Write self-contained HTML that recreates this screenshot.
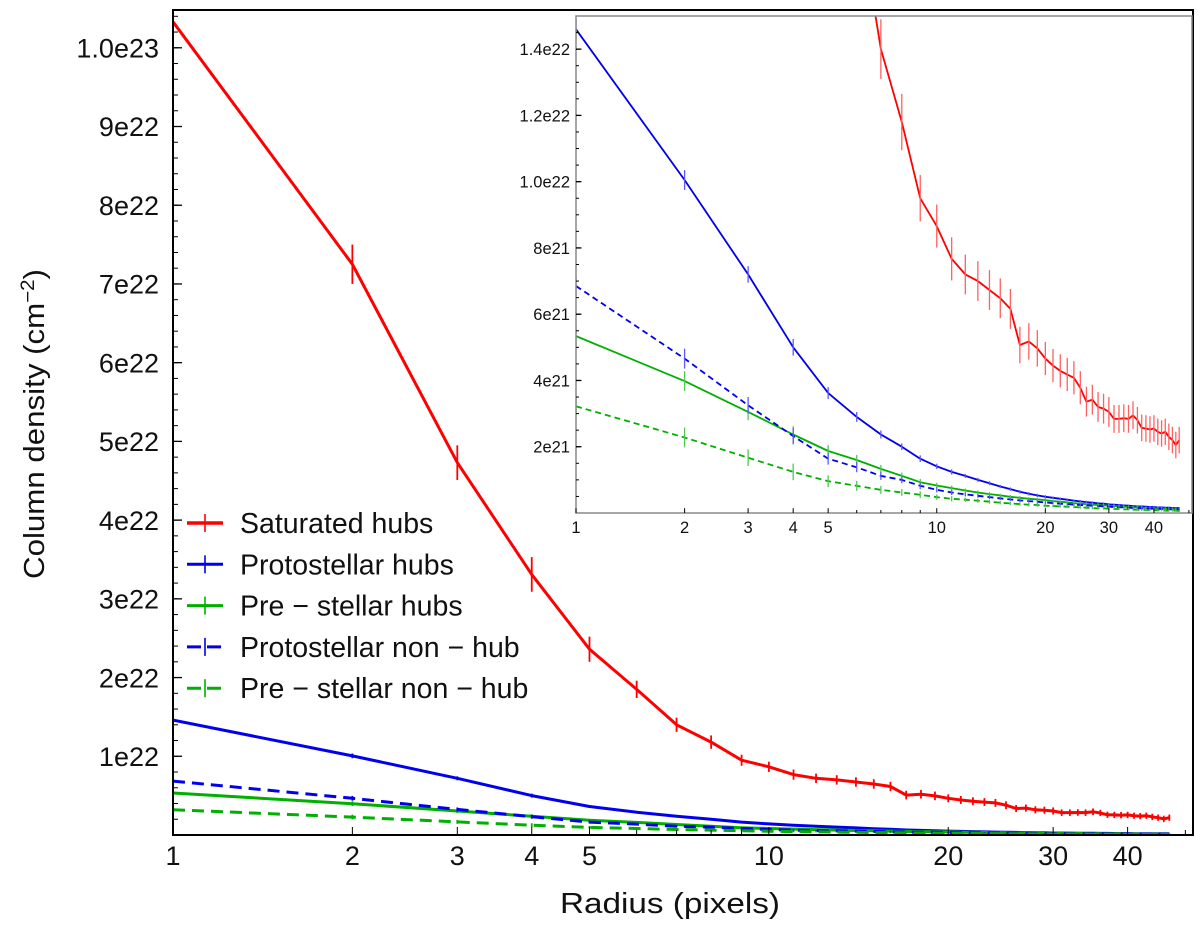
<!DOCTYPE html>
<html><head><meta charset="utf-8"><style>
body{margin:0;background:#fff;width:1200px;height:926px;overflow:hidden}
svg text{font-family:"Liberation Sans","DejaVu Sans",sans-serif;fill:#111}
</style></head><body>
<svg id="chart" width="1200" height="926" xmlns="http://www.w3.org/2000/svg"></svg>
<script>
const radius = [];
for (let i = 1; i <= 47; i++) radius.push(i);
// values in units of 1e21 cm^-2
const satHubs = [103.3,72.5,47.3,33.1,23.6,18.5,14.0,11.8,9.5,8.66,7.67,7.2,7.0,6.73,6.48,6.16,5.07,5.18,4.97,4.66,4.45,4.29,4.18,4.08,3.78,3.36,3.42,3.2,3.15,3.05,2.84,2.84,2.86,2.84,2.95,2.8,2.57,2.55,2.52,2.55,2.45,2.4,2.45,2.3,2.2,2.05,2.2];
const satErr = [1.5,2.5,2.2,2.2,1.6,1.1,0.9,0.85,0.7,0.65,0.65,0.6,0.6,0.6,0.6,0.6,0.55,0.55,0.55,0.5,0.5,0.5,0.5,0.5,0.5,0.45,0.45,0.45,0.45,0.45,0.42,0.42,0.42,0.42,0.42,0.4,0.4,0.4,0.4,0.4,0.4,0.4,0.4,0.4,0.4,0.4,0.4];
const protoHubs = [14.6,10.05,7.2,5.0,3.62,2.9,2.37,2.0,1.64,1.41,1.24,1.12,1.0,0.9,0.8,0.72,0.64,0.58,0.53,0.49,0.46,0.43,0.4,0.37,0.35,0.33,0.31,0.29,0.28,0.26,0.25,0.24,0.23,0.22,0.21,0.2,0.2,0.19,0.18,0.18,0.17,0.17,0.16,0.16,0.15,0.15,0.15];
const protoNon = [6.85,4.66,3.25,2.32,1.64,1.38,1.12,1.0,0.82,0.7,0.62,0.56,0.52,0.48,0.44,0.41,0.38,0.36,0.34,0.32,0.3,0.28,0.27,0.25,0.24,0.23,0.22,0.21,0.2,0.19,0.18,0.17,0.17,0.16,0.15,0.15,0.14,0.14,0.13,0.13,0.12,0.12,0.12,0.11,0.11,0.1,0.1];
const preHubs = [5.34,3.98,3.05,2.37,1.87,1.6,1.33,1.12,0.93,0.83,0.75,0.68,0.62,0.57,0.53,0.49,0.46,0.43,0.41,0.39,0.36,0.34,0.32,0.3,0.28,0.27,0.25,0.24,0.23,0.22,0.21,0.2,0.19,0.18,0.17,0.17,0.16,0.15,0.15,0.14,0.14,0.13,0.13,0.12,0.12,0.11,0.11];
const preNon = [3.22,2.28,1.67,1.24,0.96,0.82,0.7,0.62,0.55,0.48,0.43,0.4,0.37,0.34,0.31,0.29,0.27,0.25,0.24,0.22,0.21,0.2,0.19,0.18,0.17,0.16,0.15,0.14,0.14,0.13,0.12,0.12,0.11,0.11,0.1,0.1,0.09,0.09,0.09,0.08,0.08,0.08,0.07,0.07,0.07,0.07,0.06];
const smallErr = [0.3,0.3,0.25,0.25,0.18,0.15,0.12,0.1,0.1,0.08,0.08,0.06,0.06,0.06,0.05,0.05,0.05,0.05,0.05,0.05,0.04,0.04,0.04,0.04,0.04,0.04,0.04,0.04,0.04,0.04,0.03,0.03,0.03,0.03,0.03,0.03,0.03,0.03,0.03,0.03,0.03,0.03,0.03,0.03,0.03,0.03,0.03];
const xTickVals = [1,2,3,4,5,10,20,30,40];
const mainYTicks = [10,20,30,40,50,60,70,80,90,100];
const mainYLabels = ["1e22","2e22","3e22","4e22","5e22","6e22","7e22","8e22","9e22","1.0e23"];
const insetYTicks = [2,4,6,8,10,12,14];
const insetYLabels = ["2e21","4e21","6e21","8e21","1.0e22","1.2e22","1.4e22"];
const seriesNames = ["Saturated hubs","Protostellar hubs","Pre \u2212 stellar hubs","Protostellar non \u2212 hub","Pre \u2212 stellar non \u2212 hub"];

const NS = "http://www.w3.org/2000/svg";
const svg = document.getElementById('chart');
function mk(tag, attrs, parent){const e=document.createElementNS(NS,tag);for(const k in attrs)e.setAttribute(k,attrs[k]);(parent||svg).appendChild(e);return e;}

const series = [
 {v:satHubs,e:satErr,c:'#ff0000',ec:'#ff6060',dash:null,name:'saturated-hubs'},
 {v:protoHubs,e:smallErr,c:'#0000ee',ec:'#5a5aff',dash:null,name:'protostellar-hubs'},
 {v:preHubs,e:smallErr,c:'#00b000',ec:'#50c850',dash:null,name:'prestellar-hubs'},
 {v:protoNon,e:smallErr,c:'#0000ee',ec:'#5a5aff',dash:'dash',name:'protostellar-nonhub'},
 {v:preNon,e:smallErr,c:'#00b000',ec:'#50c850',dash:'dash',name:'prestellar-nonhub'}
];

function panel(cfg){
  const {L,R,T,B,xmax,ymax,lw,dashArr,id} = cfg;
  const xs = r => L + (R-L)*Math.log10(r)/Math.log10(xmax);
  const ys = v => B - (B-T)*v/ymax;
  const g = mk('g',{});
  
  
  mk('rect',{x:L,y:T,width:R-L,height:B-T,fill:'#fff',stroke:'none'},g);
  const clip = mk('clipPath',{id:id+'-clip'},g);
  mk('rect',{x:L,y:T,width:R-L,height:B-T},clip);
  const plot = mk('g',{'clip-path':'url(#'+id+'-clip)'},g);
  series.forEach(s=>{
    const sg = mk('g',{},plot);
    
    
    const d = radius.map((r,i)=>(i?'L':'M')+xs(r).toFixed(1)+','+ys(s.v[i]).toFixed(1)).join('');
    const p = mk('path',{d:d,fill:'none',stroke:s.c,'stroke-width':lw,'stroke-linejoin':'round'},sg);
    if(s.dash) p.setAttribute('stroke-dasharray',dashArr);
    radius.forEach((r,i)=>{
      const x=xs(r);
      const eb = mk('line',{x1:x,x2:x,y1:ys(s.v[i]+s.e[i]),y2:ys(s.v[i]-s.e[i]),stroke:cfg.inset?s.ec:s.c,'stroke-width':cfg.inset?1.3:1.8},sg);
      
      
    });
  });
  mk('rect',{x:L,y:T,width:R-L,height:B-T,fill:'none',stroke:cfg.frame,'stroke-width':cfg.inset?1.5:2},g);
  const fs = cfg.fs;
  for(let dec=1;dec<=10;dec*=10){for(let m=1;m<=9;m++){const r=m*dec;if(r>xmax)break;const x=xs(r);
    const major = xTickVals.indexOf(r)>=0;
    mk('line',{x1:x,x2:x,y1:B,y2:B-(major?cfg.tk*1.6:cfg.tk),stroke:'#000','stroke-width':1},g);}}
  xTickVals.forEach(r=>{const t=mk('text',{x:xs(r),y:B+cfg.xlOff,'font-size':fs,'text-anchor':'middle'},g);t.textContent=String(r);
    });
  for(let v=cfg.minor;v<ymax;v+=cfg.minor){const y=ys(v);mk('line',{x1:L,x2:L+cfg.tk,y1:y,y2:y,stroke:'#000','stroke-width':1},g);}
  cfg.yt.forEach((v,i)=>{const y=ys(v);mk('line',{x1:L,x2:L+cfg.tk*1.8,y1:y,y2:y,stroke:'#000','stroke-width':1.3},g);
    const t=mk('text',{x:L-cfg.ylOff,y:y+fs*0.36,'font-size':fs,'text-anchor':'end'},g);t.textContent=cfg.yl[i];
    });
}

panel({id:'main',L:173,R:1193,T:10,B:835,xmax:51.5,ymax:104.8,lw:3,dashArr:'12 7',frame:'#000',fs:27,tk:5,xlOff:30,ylOff:14,minor:2,yt:mainYTicks,yl:mainYLabels});
panel({id:'inset',inset:true,L:576,R:1192,T:16,B:513,xmax:51,ymax:15,lw:1.8,dashArr:'6 4',frame:'#888',fs:16.5,tk:3,xlOff:20,ylOff:6,minor:0.5,yt:insetYTicks,yl:insetYLabels});

const lg = mk('g',{});


series.forEach((s,i)=>{
  const y = 523 + i*41.3;
  const e = mk('g',{},lg);
  
  
  const l = mk('line',{x1:187,x2:223,y1:y,y2:y,stroke:s.c,'stroke-width':i==0?3.5:3},e);
  if(s.dash) l.setAttribute('stroke-dasharray','14 6');
  mk('line',{x1:205,x2:205,y1:y-9,y2:y+9,stroke:s.c,'stroke-width':1.6},e);
  const t = mk('text',{x:240,y:y+10,'font-size':28.5},e);
  t.textContent = seriesNames[i];
});

const xt = mk('text',{x:670,y:913,'font-size':29,'text-anchor':'middle',textLength:220,lengthAdjust:'spacingAndGlyphs'});
xt.textContent='Radius (pixels)';


const yt = mk('text',{x:0,y:0,'font-size':29,'text-anchor':'middle',textLength:310,lengthAdjust:'spacingAndGlyphs',transform:'translate(44,424) rotate(-90)'});
yt.innerHTML='Column density (cm<tspan dy="-10" font-size="19">\u22122</tspan><tspan dy="10">)</tspan>';


</script>
</body></html>
